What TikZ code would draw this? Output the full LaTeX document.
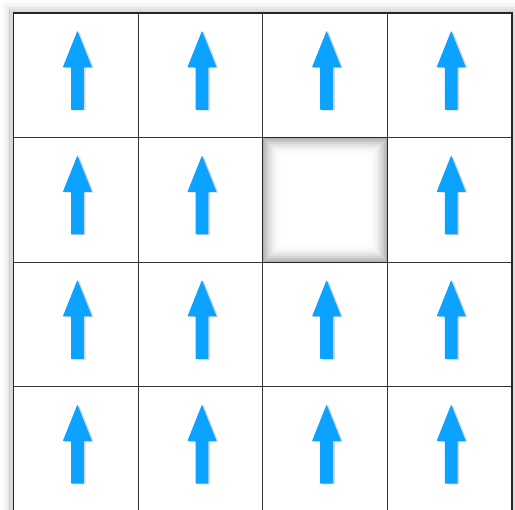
\documentclass[tikz,border=0pt]{standalone}
\usepackage{xcolor}
\usepackage{tikz}
\usetikzlibrary{shadows}

\definecolor{arrowblue}{RGB}{12,162,255}

\begin{document}
\begin{tikzpicture}[
    x=1pt, y=-1pt,
    cellbox/.style={draw=black!80, line width=0.8pt, fill=white, minimum size=124.6pt, inner sep=0pt, outer sep=0pt},
    uparrow/.style={fill=arrowblue, rounded corners=0.6pt,
        drop shadow={shadow xshift=1.8pt, shadow yshift=-0.8pt, opacity=0.25, fill=black!60}},
    halo/.style={draw=black, line width=1.7pt},
    inset/.style={draw=black, line width=1.5pt}
]
    \useasboundingbox (0,0) rectangle (515,510);

    % soft shadow round the whole board
    \foreach \i in {1,...,8}
        \draw[halo, opacity={0.2*(1-\i/9)*(1-\i/9)}] ({13.5-\i*1.6},{13-\i*1.6}) rectangle ({512+\i*1.6},{512+\i*1.6});

    % the 4x4 board, cells named cell-row-col
    \foreach \r in {1,...,4}
        \foreach \c in {1,...,4}
            \node[cellbox] (cell-\r-\c) at ({13.5+(\c-0.5)*124.6},{13+(\r-0.5)*124.6}) {};
    \draw[black!85, line width=1.2pt] (cell-1-1.north west) rectangle (cell-4-4.south east);

    % the empty cell gets an inner shadow
    \foreach \i in {0,...,11}
        \draw[inset, opacity={0.30*(1-\i/12)*(1-\i/12)}]
            ([shift={({(\i+0.5)*1.5},{(\i+0.5)*1.5})}]cell-2-3.north west)
            rectangle ([shift={({-(\i+0.5)*1.5},{-(\i+0.5)*1.5})}]cell-2-3.south east);
    \draw[black!85, line width=1.2pt] (cell-2-3.north west) rectangle (cell-2-3.south east);

    % one arrow in every other cell
    \foreach \r/\c in {1/1,1/2,1/3,1/4,2/1,2/2,2/4,3/1,3/2,3/3,3/4,4/1,4/2,4/3,4/4} {
        \begin{scope}[shift={(cell-\r-\c.center)}]
            \fill[uparrow] (-4.8,34.5) -- (-4.8,-8) -- (-13,-8) -- (1.6,-44.5)
                -- (16.2,-8) -- (8,-8) -- (8,34.5) -- cycle;
        \end{scope}
    }
\end{tikzpicture}
\end{document}
